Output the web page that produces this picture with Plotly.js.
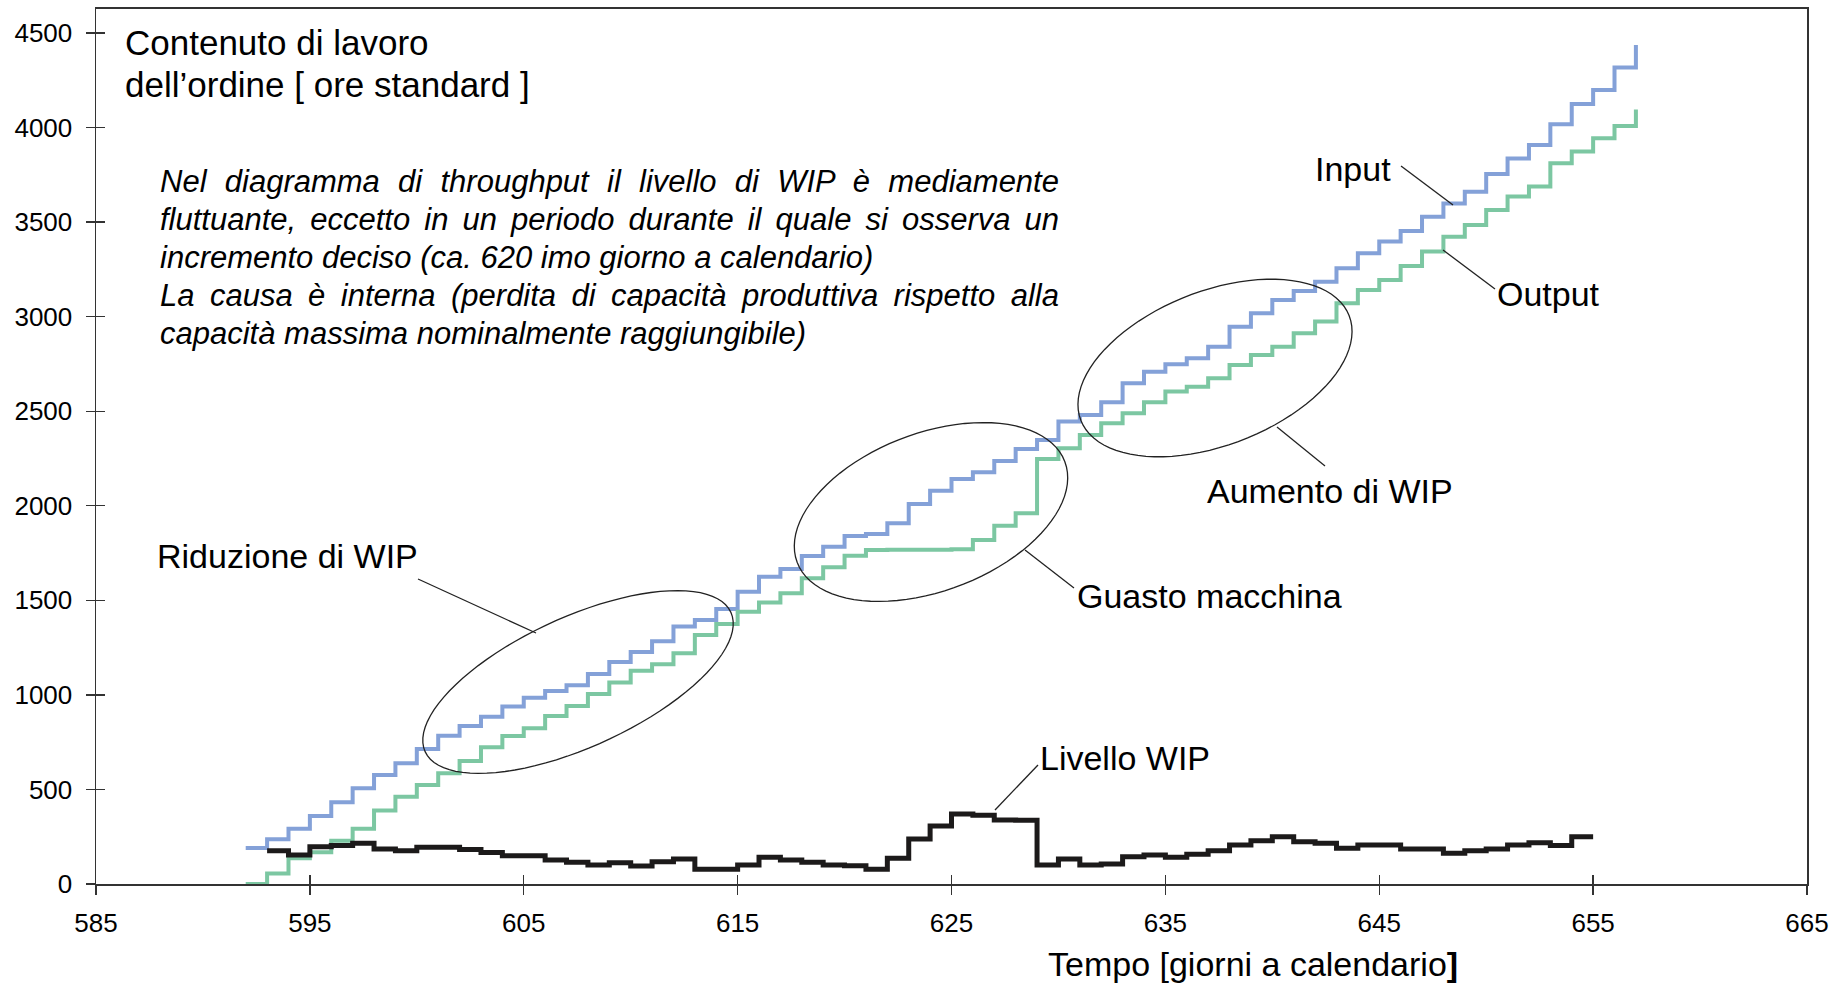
<!DOCTYPE html>
<html>
<head>
<meta charset="utf-8">
<script src="https://cdn.plot.ly/plotly-3.0.1.min.js"></script>
<style>
  html, body { margin: 0; padding: 0; background: #ffffff; }
  #chart { width: 1846px; height: 984px; }
</style>
</head>
<body>
<div id="chart"></div>
<script>
// ---------------- DATA ----------------
const days = [592,593,594,595,596,597,598,599,600,601,602,603,604,605,606,607,608,609,610,611,612,613,614,615,616,617,618,619,620,621,622,623,624,625,626,627,628,629,630,631,632,633,634,635,636,637,638,639,640,641,642,643,644,645,646,647,648,649,650,651,652,653,654,655,656,657];

const inputVals = [190,236,292,360,432,506,576,638,714,784,835,885,938,985,1021,1051,1110,1174,1227,1283,1361,1396,1454,1546,1625,1666,1734,1784,1840,1851,1907,2009,2080,2141,2177,2237,2300,2348,2445,2480,2547,2648,2709,2748,2780,2841,2947,3018,3088,3136,3185,3256,3335,3397,3453,3529,3599,3661,3754,3837,3908,4017,4125,4199,4318,4437];

const outputVals = [0,56,136,168,229,292,388,462,524,585,650,723,783,823,888,941,1005,1065,1128,1162,1220,1317,1375,1440,1488,1537,1617,1675,1736,1766,1768,1768,1768,1770,1819,1895,1960,2247,2304,2374,2436,2489,2547,2604,2630,2674,2744,2797,2841,2912,2974,3071,3141,3194,3268,3344,3423,3485,3564,3635,3688,3811,3873,3943,4008,4096];

const wipDays = [593,594,595,596,597,598,599,600,601,602,603,604,605,606,607,608,609,610,611,612,613,614,615,616,617,618,619,620,621,622,623,624,625,626,627,628,629,630,631,632,633,634,635,636,637,638,639,640,641,642,643,644,645,646,647,648,649,650,651,652,653,654,655];

const wipVals = [176,153,197,203,215,185,176,194,194,183,166,150,150,127,115,100,113,95,118,132,78,78,100,141,127,115,100,97,78,136,238,307,370,363,338,337,100,132,100,106,144,153,141,157,176,206,229,250,224,215,189,206,206,185,185,162,176,185,206,218,203,250,250];

const xTicks = [585,595,605,615,625,635,645,655,665];
const yTicks = [0,500,1000,1500,2000,2500,3000,3500,4000,4500];

const seriesNames = ['Input','Output','Livello WIP'];

// ---------------- GEOMETRY HELPERS (reference pixel space -> paper) ----------------
const PL = 96, PR = 1807, PT = 9, PB = 884;
const fx = px => (px - PL) / (PR - PL);
const fy = py => (PB - py) / (PB - PT);
const Y_MAX = 4500 * (PB - PT) / (PB - 33);

const FONT = 'Liberation Sans, Arial, sans-serif';

function ellipsePath(cx, cy, a, b, deg) {
  const th = deg * Math.PI / 180;
  const ux = Math.cos(th), uy = -Math.sin(th);
  const vx = Math.sin(th), vy = Math.cos(th);
  let d = '';
  const N = 90;
  for (let i = 0; i <= N; i++) {
    const t = 2 * Math.PI * i / N;
    const px = cx + a * Math.cos(t) * ux + b * Math.sin(t) * vx;
    const py = cy + a * Math.cos(t) * uy + b * Math.sin(t) * vy;
    d += (i === 0 ? 'M' : 'L') + fx(px).toFixed(5) + ',' + fy(py).toFixed(5);
  }
  return d + 'Z';
}

function leader(x0, y0, x1, y1) {
  return { type: 'line', xref: 'paper', yref: 'paper',
    x0: fx(x0), y0: fy(y0), x1: fx(x1), y1: fy(y1),
    line: { color: '#222222', width: 1.3 } };
}

function label(text, px, py, size, extra) {
  return Object.assign({
    text: text, xref: 'paper', yref: 'paper', x: fx(px), y: fy(py),
    xanchor: 'left', yanchor: 'middle', align: 'left', showarrow: false,
    font: { family: FONT, size: size, color: '#000000' }
  }, extra || {});
}

// ---------------- TRACES ----------------
const traces = [
  { x: days, y: inputVals, name: seriesNames[0], type: 'scatter', mode: 'lines',
    line: { shape: 'hv', color: '#84A1D8', width: 4 }, xaxis: 'x', yaxis: 'y' },
  { x: days, y: outputVals, name: seriesNames[1], type: 'scatter', mode: 'lines',
    line: { shape: 'hv', color: '#7CC7A2', width: 4 }, xaxis: 'x', yaxis: 'y' },
  { x: wipDays, y: wipVals, name: seriesNames[2], type: 'scatter', mode: 'lines',
    line: { shape: 'hv', color: '#1c1a1a', width: 5 }, xaxis: 'x', yaxis: 'y' },
  { x: [], y: [], xaxis: 'x2', yaxis: 'y2', type: 'scatter', mode: 'lines',
    showlegend: false, hoverinfo: 'skip' }
];

// ---------------- ANNOTATIONS ----------------
const paraLines = [
  'Nel diagramma di throughput il livello di WIP è mediamente',
  'fluttuante, eccetto in un periodo durante il quale si osserva un',
  'incremento deciso (ca. 620 imo giorno a calendario)',
  'La causa è interna (perdita di capacità produttiva rispetto alla',
  'capacità massima nominalmente raggiungibile)'
];
const paraJustify = [true, true, false, true, false];
const PARA_LEFT = 158, PARA_RIGHT = 1057, PARA_TOP = 181, PARA_STEP = 38;

const annotations = [
  label('Contenuto di lavoro', 123, 43, 35),
  label('dell’ordine [ ore standard ]', 123, 84, 35),
  label('Input', 1313, 169, 34),
  label('Output', 1495, 294, 34),
  label('Aumento di WIP', 1205, 491, 34),
  label('Guasto macchina', 1075, 596, 34),
  label('Riduzione di WIP', 155, 556, 34),
  label('Livello WIP', 1038, 758, 34),
  label('Tempo [giorni a calendario<b>]</b>', 1046, 964, 34)
];
const paraStartIndex = annotations.length;
paraLines.forEach((t, i) => {
  annotations.push(label('<i>' + t + '</i>', PARA_LEFT, PARA_TOP + i * PARA_STEP, 31));
});

// ---------------- SHAPES ----------------
const shapes = [
  { type: 'path', xref: 'paper', yref: 'paper', path: ellipsePath(578, 682, 168, 65, 24.5),
    line: { color: '#222222', width: 1.3 } },
  { type: 'path', xref: 'paper', yref: 'paper', path: ellipsePath(931, 512, 143, 79, 20.6),
    line: { color: '#222222', width: 1.3 } },
  { type: 'path', xref: 'paper', yref: 'paper', path: ellipsePath(1215, 368, 144, 77, 21.3),
    line: { color: '#222222', width: 1.3 } },
  leader(1401, 166, 1453, 205),
  leader(1443, 250, 1495, 289),
  leader(1277, 427, 1325, 466),
  leader(1025, 550, 1074, 588),
  leader(418, 579, 536, 633),
  leader(995, 810, 1038, 765)
];

// ---------------- LAYOUT ----------------
const axisCommon = { showgrid: false, zeroline: false, tickcolor: '#333333', tickwidth: 1.3, ticklen: 9 };
const layout = {
  width: 1846, height: 984,
  margin: { l: PL, r: 1846 - PR, t: PT, b: 984 - PB, pad: 0 },
  paper_bgcolor: '#ffffff', plot_bgcolor: '#ffffff',
  showlegend: false,
  xaxis: Object.assign({}, axisCommon, {
    range: [585, 665], tickmode: 'array', tickvals: xTicks, ticktext: xTicks.map(String),
    ticks: 'outside', showline: true, linecolor: '#333333', linewidth: 2, mirror: true,
    tickfont: { family: FONT, size: 26, color: '#000000' }, ticklabelstandoff: 6
  }),
  yaxis: Object.assign({}, axisCommon, {
    range: [0, Y_MAX], tickmode: 'array', tickvals: yTicks, ticktext: yTicks.map(String),
    ticks: 'outside', showline: true, linecolor: '#333333', linewidth: 1.5, mirror: true,
    tickfont: { family: FONT, size: 26, color: '#000000' }, ticklabelstandoff: 8
  }),
  xaxis2: Object.assign({}, axisCommon, {
    overlaying: 'x', side: 'bottom', range: [585, 665], tickmode: 'array', tickvals: xTicks,
    ticks: 'inside', showticklabels: false, showline: false
  }),
  yaxis2: Object.assign({}, axisCommon, {
    overlaying: 'y', side: 'left', range: [0, Y_MAX], tickmode: 'array', tickvals: yTicks,
    ticks: 'inside', showticklabels: false, showline: false
  }),
  annotations: annotations,
  shapes: shapes
};

function justifyParagraph(gd) {
  const groups = gd.querySelectorAll('g.annotation');
  groups.forEach(g => {
    const idx = +g.getAttribute('data-index');
    const k = idx - paraStartIndex;
    if (k < 0 || k >= paraLines.length || !paraJustify[k]) return;
    const t = g.querySelector('text.annotation-text');
    if (!t) return;
    const bb = t.getBBox();
    const spaces = (paraLines[k].match(/ /g) || []).length;
    const target = PARA_RIGHT - PARA_LEFT;
    const extra = (target - bb.width) / spaces;
    t.setAttribute('text-anchor', 'start');
    t.setAttribute('x', bb.x);
    t.querySelectorAll('tspan').forEach(ts => { if (ts.hasAttribute('x')) ts.setAttribute('x', bb.x); });
    t.style.wordSpacing = extra.toFixed(2) + 'px';
  });
}

Plotly.newPlot('chart', traces, layout, { displayModeBar: false, staticPlot: true })
  .then(gd => justifyParagraph(gd));
</script>
</body>
</html>
